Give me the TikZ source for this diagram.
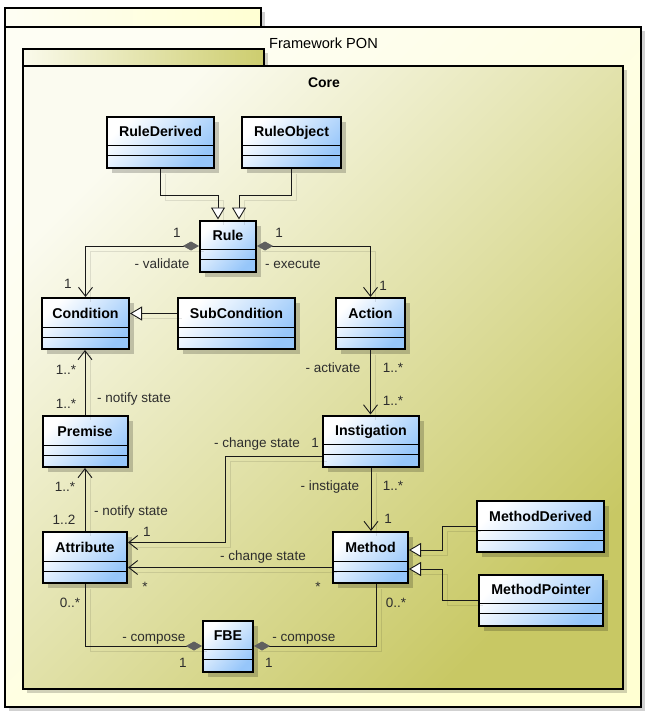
\documentclass[tikz,border=0pt]{standalone}
\usepackage{fontspec}
\setmainfont{Liberation Sans}
\usetikzlibrary{arrows.meta,shadows,calc}

\definecolor{clsblue}{RGB}{150,198,250}
\definecolor{coreA}{RGB}{251,251,240}
\definecolor{coreB}{RGB}{200,200,100}
\definecolor{coretabA}{RGB}{250,250,235}
\definecolor{coretabB}{RGB}{205,205,110}
\definecolor{fwA}{RGB}{254,254,244}
\definecolor{fwB}{RGB}{255,255,210}
\definecolor{lbl}{RGB}{45,45,45}
\definecolor{dia}{RGB}{95,95,95}

\tikzset{
  pkg/.style={draw=black, line width=2pt, drop shadow={shadow xshift=4pt, shadow yshift=-4pt, opacity=.18, fill=black}},
  cls/.style={draw=black, line width=2pt, inner sep=0pt, minimum height=51pt,
    text height=10pt, text depth=21pt,
    font=\fontsize{14.2}{16}\selectfont\bfseries,
    top color=white, bottom color=clsblue, shading angle=45,
    drop shadow={shadow xshift=5pt, shadow yshift=-5pt, opacity=.2, fill=black},
    path picture={
      \draw[line width=1pt] ([yshift=-29pt]path picture bounding box.north west) -- ([yshift=-29pt]path picture bounding box.north east);
      \draw[line width=1pt] ([yshift=-39pt]path picture bounding box.north west) -- ([yshift=-39pt]path picture bounding box.north east);
    }},
  lab/.style={font=\fontsize{13.5}{16}\selectfont, text=lbl, inner sep=0pt, text height=9.7pt, text depth=0pt},
  ttl/.style={font=\fontsize{14.6}{17}\selectfont, inner sep=0pt, text height=10.4pt, text depth=0pt},
  lshadow/.style={preaction={draw=black, draw opacity=0.1, line width=1pt, transform canvas={shift={(5pt,-5pt)}}, arrows=-}},
  conn/.style={draw=black!90, line width=0.9pt, lshadow},
  assoc/.style={conn, -{Straight Barb[length=9pt,width=14pt]}},
  gen/.style={conn, -{Triangle[open, length=12pt, width=14pt, fill=white]}},
  compassoc/.style={conn, {Diamond[length=16pt,width=9pt,color=dia,fill=dia]}-{Straight Barb[length=9pt,width=14pt]}},
  comp/.style={conn, {Diamond[length=16pt,width=9pt,color=dia,fill=dia]}-},
}

\begin{document}
\begin{tikzpicture}[x=1pt,y=-1pt]
\useasboundingbox (0,0) rectangle (649,714);
\fill[white] (0,0) rectangle (649,714);

% packages
\path[pkg, left color=fwA, right color=fwB] (5,8) rectangle (261,27);
\path[pkg, top color=fwA, bottom color=fwB, shading angle=45] (5,27) rectangle (641,707);
\node[ttl] (fwtitle) at (323.5,43) {Framework PON};
\path[pkg, left color=coretabA, right color=coretabB] (23,49) rectangle (264,66);
\path[pkg, top color=coreA, bottom color=coreB, shading angle=45] (23,66) rectangle (623,689);
\node[ttl, font=\fontsize{14}{17}\selectfont\bfseries] (coretitle) at (324,82) {Core};

% classes
\node[cls, minimum width=107pt] (ruleDerived) at (160.5,142.5) {RuleDerived};
\node[cls, minimum width=99pt] (ruleObject) at (291.5,142.5) {RuleObject};
\node[cls, minimum width=56pt] (rule) at (228,246) {Rule};
\node[cls, minimum width=87pt] (condition) at (85.5,323.5) {Condition};
\node[cls, minimum width=117pt] (subCondition) at (236.5,323.5) {SubCondition};
\node[cls, minimum width=69pt] (action) at (370.5,323.5) {Action};
\node[cls, minimum width=85pt] (premise) at (85,441.5) {Premise};
\node[cls, minimum width=96pt] (instigation) at (371,441) {Instigation};
\node[cls, minimum width=84pt] (attribute) at (85,557.5) {Attribute};
\node[cls, minimum width=75pt] (method) at (370.5,557.5) {Method};
\node[cls, minimum width=127pt] (methodDerived) at (540.5,526.5) {MethodDerived};
\node[cls, minimum width=124pt] (methodPointer) at (541,600) {MethodPointer};
\node[cls, minimum width=50pt] (fbe) at (228,646) {FBE};

% connectors
\draw[gen] (ruleDerived.south) -- ++(0,26) -| ([xshift=-10pt]rule.north);
\draw[gen] (ruleObject.south) -- ++(0,26) -| ([xshift=11pt]rule.north);
\draw[compassoc] (rule.west) -| (condition.north);
\draw[compassoc] (rule.east) -| (action.north);
\draw[gen] ([yshift=10pt]subCondition.west) -- ([yshift=10pt]condition.east);
\draw[assoc] (action.south) -- (action.south |- instigation.north);
\draw[assoc] (premise.north) -- (premise.north |- condition.south);
\draw[assoc] (attribute.north) -- (attribute.north |- premise.south);
\draw[assoc] ([yshift=-15pt]instigation.west) -- ++(-97,0) |- ([yshift=15pt]attribute.east);
\draw[assoc] (instigation.south) -- (instigation.south |- method.north);
\draw[assoc] ([yshift=-10pt]method.west) -- ([yshift=-10pt]attribute.east);
\draw[comp] (fbe.west) -| (attribute.south);
\draw[comp] (fbe.east) -| ([xshift=5.5pt]method.south);
\draw[gen] (methodDerived.west) -- ++(-34,0) |- ([yshift=7.5pt]method.east);
\draw[gen] (methodPointer.west) -- ++(-36,0) |- ([yshift=-11.5pt]method.east);

% labels
\node[lab] (l1) at (177,233) {1};
\node[lab] (l2) at (162,264) {- validate};
\node[lab] (l3) at (279,233) {1};
\node[lab] (l4) at (293,264) {- execute};
\node[lab] (l5) at (68,284) {1};
\node[lab] (l6) at (383,286) {1};
\node[lab] (l7) at (333,368) {- activate};
\node[lab] (l8) at (393,368) {1..*};
\node[lab] (l9) at (393,401) {1..*};
\node[lab] (l10) at (66,370) {1..*};
\node[lab] (l11) at (66,404) {1..*};
\node[lab] (l12) at (134,398) {- notify state};
\node[lab] (l13) at (65,487) {1..*};
\node[lab] (l14) at (64,520) {1..2};
\node[lab] (l15) at (131,511) {- notify state};
\node[lab] (l16) at (257,443) {- change state};
\node[lab] (l17) at (315,443) {1};
\node[lab] (l18) at (147,532) {1};
\node[lab] (l19) at (330,486) {- instigate};
\node[lab] (l20) at (393,486) {1..*};
\node[lab] (l21) at (388,519) {1};
\node[lab] (l22) at (263,556) {- change state};
\node[lab] (l23) at (145,587) {*};
\node[lab] (l24) at (318,587) {*};
\node[lab] (l25) at (70,603) {0..*};
\node[lab] (l26) at (154,637) {- compose};
\node[lab] (l27) at (183,663) {1};
\node[lab] (l28) at (304,637) {- compose};
\node[lab] (l29) at (269,663) {1};
\node[lab] (l30) at (396,603) {0..*};
\end{tikzpicture}
\end{document}
